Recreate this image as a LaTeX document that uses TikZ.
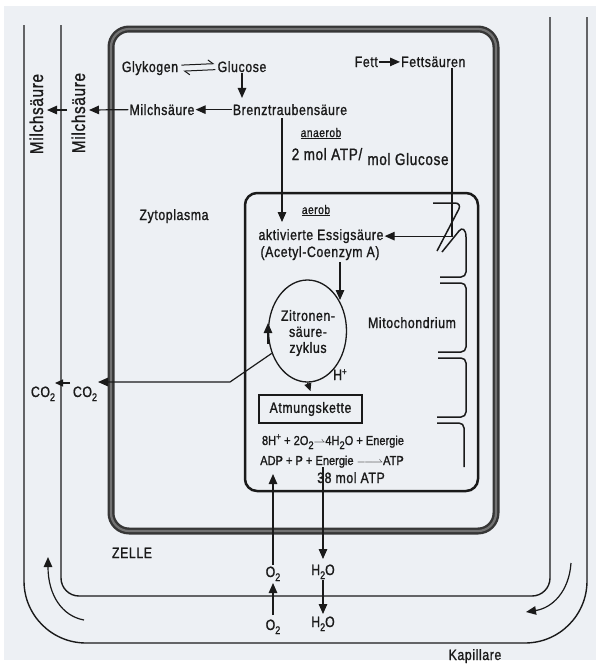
\documentclass[tikz,border=0pt]{standalone}
\usepackage{fontspec}
\setmainfont[FakeStretch=0.82,LetterSpace=4,FakeBold=1.2]{Liberation Sans}
\newfontfamily\eqfont[FakeStretch=0.85,FakeBold=1.2]{Liberation Sans}
\usetikzlibrary{arrows.meta,shapes.geometric}
\definecolor{ink}{HTML}{1A1A1A}
\definecolor{bg}{HTML}{EDF0F4}
\definecolor{wall}{HTML}{363636}
\newcommand\subn[1]{\raisebox{-4pt}{\fontsize{11}{11}\selectfont #1}}
\newcommand\supn[1]{\raisebox{5pt}{\fontsize{10}{10}\selectfont #1}}
\begin{document}
\begin{tikzpicture}[x=1pt,y=-1pt,
  every node/.style={inner sep=1pt, text=ink},
  t14/.style={font=\fontsize{15}{16}\selectfont, anchor=base},
  t12/.style={font=\fontsize{12.5}{14}\selectfont, anchor=base},
  t16/.style={font=\fontsize{16.5}{18}\selectfont, anchor=base},
  teq/.style={font=\eqfont\fontsize{13}{14}\selectfont, anchor=base},
  trot/.style={font=\fontsize{18.5}{20}\selectfont, anchor=base, rotate=90},
  thinline/.style={draw=ink, line width=1.2pt},
  arr/.style={thinline, -{Triangle[length=10pt,width=8.5pt]}},
  sarr/.style={thinline, -{Triangle[length=8pt,width=7pt]}},
  capline/.style={draw=ink, line width=1.4pt},
  crista/.style={draw=ink, line width=1.5pt},
  harp/.style={thinline, line width=1pt, -{Straight Barb[left,length=5pt,width=8pt]}},
]
\useasboundingbox (0,0) rectangle (598,665);
\fill[white] (0,0) rectangle (598,665);
\fill[bg] (4,6) rectangle (596,660);

% capillary
\draw[capline, rounded corners=62pt] (24,25) -- (24,643) -- (587,643) -- (587,17);
\draw[capline, rounded corners=18pt] (61,25) -- (61,596) -- (550,596) -- (550,17);
\coordinate (fl1) at (84,620); \coordinate (fl2) at (48,557);
\draw[arr] (fl1) .. controls (62,616) and (48,595) .. (fl2);
\coordinate (fr1) at (571,563); \coordinate (fr2) at (526,612);
\draw[arr] (fr1) .. controls (569,592) and (552,608) .. (fr2);

% cell wall
\draw[draw=wall, line width=7pt, rounded corners=18pt] (111,29) rectangle (496,531);
\draw[draw=wall!70!white, line width=2.2pt, rounded corners=18pt] (111,29) rectangle (496,531);

% mitochondrion
\draw[draw=ink, line width=2.5pt, rounded corners=12pt] (245,193) rectangle (478,491);
\draw[crista, rounded corners=7pt] (433,203) -- (462,203) -- (437,251);
\draw[crista] (442,252) -- (459,231) .. controls (462,227) and (466,229) .. (466,237) [rounded corners=5pt] -- (466,277) -- (440,277);
\draw[crista, rounded corners=5pt] (440,283) -- (466,283) -- (466,352) -- (438,352);
\draw[crista, rounded corners=5pt] (438,358) -- (466,358) -- (466,417) -- (437,417);
\draw[crista, rounded corners=5pt] (437,423) -- (464,423) -- (464,467);

% texts
\node[trot] (milo) at (43,114) {Milchsäure};
\node[trot] (mili) at (85,113) {Milchsäure};
\node[t14] (glyk) at (150,72) {Glykogen};
\node[t14] (gluc) at (242,72) {Glucose};
\node[t14] (milch) at (162,115) {Milchsäure};
\node[t14] (brenz) at (290,115) {Brenztraubensäure};
\node[t12] (anaer) at (321,137) {\underline{anaerob}};
\node[t16] (atp2) at (327,160) {2 mol ATP/};
\node[t16] (molg) at (408,165) {mol Glucose};
\node[t14, anchor=base east] (fett) at (379,67) {Fett};
\node[t14, anchor=base west] (fs) at (400,67) {Fettsäuren};
\node[t14] (zyto) at (174,220) {Zytoplasma};
\node[t12] (aer) at (316,214) {\underline{aerob}};
\node[t14] (essig) at (321,240) {aktivierte Essigsäure};
\node[t14] (acet) at (320,257) {(Acetyl-Coenzym A)};
\node[ellipse, draw=ink, line width=1.3pt, minimum width=78pt, minimum height=102pt, inner sep=0pt] (ell) at (307.5,331) {};
\node[t14, align=center, anchor=center] (zit) at (308,333) {Zitronen-\\säure-\\zyklus};
\node[t14] (mito) at (412,328) {Mitochondrium};
\node[t14] (hplus) at (340,380) {H\supn{+}};
\node[t14, draw=ink, line width=1.5pt, minimum width=103pt, minimum height=28pt, inner sep=0pt, anchor=center] (atm) at (310.5,409) {Atmungskette};
\node[teq] (eq1) at (333,445) {8H\supn{+} + 2O\subn{2}$\rightharpoonup$4H\subn{2}O + Energie};
\node[teq] (eq2) at (332,465) {ADP + P + Energie $\relbar\joinrel\relbar\joinrel\rightharpoonup$ATP};
\node[t14] (atp38) at (351,483) {38 mol ATP};
\node[t14] (co2l) at (43,397) {CO\subn{2}};
\node[t14] (co2r) at (85,397) {CO\subn{2}};
\node[t14] (o2a) at (273,577) {O\subn{2}};
\node[t14] (o2b) at (273,630) {O\subn{2}};
\node[t14] (h2oa) at (323,575) {H\subn{2}O};
\node[t14] (h2ob) at (323,627) {H\subn{2}O};
\node[t14] (zelle) at (132,558) {ZELLE};
\node[t14] (kap) at (475,660) {Kapillare};

% connectors
\draw[harp] ([xshift=2pt,yshift=3pt]glyk.east) -- ([xshift=-2pt,yshift=3pt]gluc.west);
\draw[harp] ([xshift=-1pt,yshift=-3pt]gluc.west) -- ([xshift=4pt,yshift=-3pt]glyk.east);
\draw[arr] (gluc.south) -- ([yshift=5pt]gluc.south |- brenz.north);
\draw[arr] (brenz.west) -- (milch.east);
\coordinate (m1) at (89,110);
\draw[arr] (milch.west) -- (m1);
\coordinate (m2) at (67,110); \coordinate (m3) at (47,110);
\draw[arr] (m2) -- (m3);
\draw[arr] (fett.east) -- (fs.west);
\coordinate (bz1) at (282,118); \coordinate (bz2) at (282,222);
\draw[arr] (bz1) -- (bz2);
\coordinate (fsx) at (452,0);
\draw[arr] (fs.south -| fsx) |- (essig.east);
\coordinate (ac1) at (340,262); \coordinate (ac2) at (340,300);
\draw[arr] (ac1) -- (ac2);
\coordinate (cy1) at (268,344); \coordinate (cy2) at (268,323);
\draw[arr] (cy1) -- (cy2);
\coordinate (cbend) at (230,382); \coordinate (ctip) at (98,382);
\draw[arr] (ell.212) -- (cbend) -- (ctip);
\coordinate (cc1) at (70,383); \coordinate (cc2) at (55,383);
\draw[sarr] (cc1) -- (cc2);
\draw[sarr] (ell.south) -- ([yshift=3pt]atm.north);
\coordinate (ox1) at (273,565); \coordinate (ox2) at (273,474);
\draw[arr] (ox1) -- (ox2);
\coordinate (ox3) at (273,615); \coordinate (ox4) at (273,583);
\draw[arr] (ox3) -- (ox4);
\coordinate (hw1) at (323,467); \coordinate (hw2) at (323,559);
\draw[arr] (hw1) -- (hw2);
\coordinate (hw3) at (323,580); \coordinate (hw4) at (323,614);
\draw[arr] (hw3) -- (hw4);
\end{tikzpicture}
\end{document}
